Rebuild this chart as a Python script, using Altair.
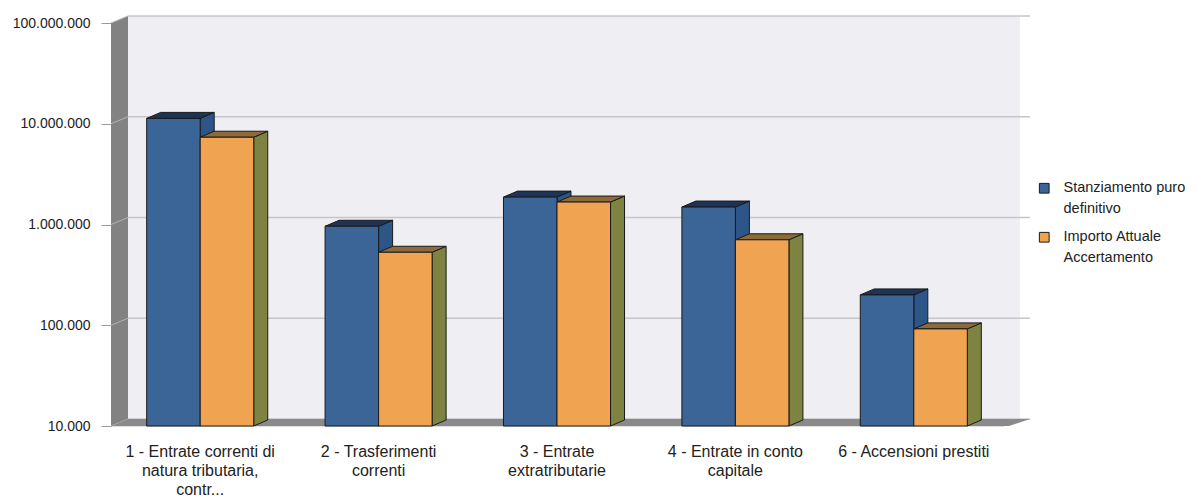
import json
import altair as alt
import numpy as np
import pandas as pd

# ---- data -------------------------------------------------------------
categories = [
    "1 - Entrate correnti di\nnatura tributaria,\ncontr...",
    "2 - Trasferimenti\ncorrenti",
    "3 - Entrate\nextratributarie",
    "4 - Entrate in conto\ncapitale",
    "6 - Accensioni prestiti",
]
series_names = ["Stanziamento puro definitivo", "Importo Attuale Accertamento"]
legend_lines = [["Stanziamento puro", "definitivo"], ["Importo Attuale", "Accertamento"]]
stanziamento = [11_300_000, 960_000, 1_870_000, 1_490_000, 200_000]
accertamento = [7_350_000, 530_000, 1_670_000, 705_000, 92_000]
y_ticks = [10_000, 100_000, 1_000_000, 10_000_000, 100_000_000]

# ---- geometry of the pseudo-3D frame ------------------------------------
W, H = 892, 403
N = len(categories)
Y_MIN, Y_MAX = y_ticks[0], y_ticks[-1]
PX_PER_X = W / N
PX_PER_DECADE = H / np.log10(Y_MAX / Y_MIN)


def dx(px):
    return px / PX_PER_X


def ky(px):
    return 10 ** (px / PX_PER_DECADE)


BAR_W = 0.3
BAR_DX, BAR_K = dx(14), ky(6)
WALL_DX, WALL_K = dx(17), ky(7)

FONT = "Liberation Sans"
palette = {
    "front": ["#3b6497", "#f0a452"],
    "top": ["#1d3458", "#8c6a3a"],
    "side": ["#2d5587", "#7f8341"],
}
EDGE = "#1a1a1a"

# ---- tables -------------------------------------------------------------
rows = []
for i, (a, b) in enumerate(zip(stanziamento, accertamento)):
    c = i + 0.5
    rows.append(dict(cat=i, s=0, series=series_names[0], value=a, xl=c - BAR_W, xr=c))
    rows.append(dict(cat=i, s=1, series=series_names[1], value=b, xl=c, xr=c + BAR_W))
bars = pd.DataFrame(rows)
bars["bar"] = bars["cat"] * 2 + bars["s"]
bars["base"] = Y_MIN

side = pd.concat([
    pd.DataFrame(dict(bar=bars.bar, s=bars.s, sx=bars.xr, st=bars.value, sb=Y_MIN)),
    pd.DataFrame(dict(bar=bars.bar, s=bars.s, sx=bars.xr + BAR_DX,
                      st=bars.value * BAR_K, sb=Y_MIN * BAR_K)),
])
top = pd.concat([
    pd.DataFrame(dict(bar=bars.bar, s=bars.s, ty=bars.value, tl=bars.xl, tr=bars.xr)),
    pd.DataFrame(dict(bar=bars.bar, s=bars.s, ty=bars.value * BAR_K,
                      tl=bars.xl + BAR_DX, tr=bars.xr + BAR_DX)),
])

labels = pd.DataFrame(dict(xc=[i + 0.5 for i in range(N)], label=categories))

left_wall = pd.DataFrame(dict(wx=[0, WALL_DX], wt=[Y_MAX, Y_MAX * WALL_K], wb=[Y_MIN, Y_MIN * WALL_K]))
floor = pd.DataFrame(dict(fy=[Y_MIN, Y_MIN * WALL_K], fl=[0, WALL_DX], fr=[N + dx(6), N + dx(27)]))
back = pd.DataFrame(dict(bl=[WALL_DX], br=[N + WALL_DX], bb=[Y_MIN * WALL_K], bt=[Y_MAX * WALL_K]))
grid = pd.DataFrame(dict(gy=[t * WALL_K for t in y_ticks], gl=WALL_DX, gr=N + dx(27)))
conn = pd.concat([
    pd.DataFrame(dict(t=range(len(y_ticks)), cx=0.0, cy=y_ticks)),
    pd.DataFrame(dict(t=range(len(y_ticks)), cx=WALL_DX, cy=[v * WALL_K for v in y_ticks])),
])

# ---- shared scales ------------------------------------------------------
xscale = alt.Scale(domain=[0, N], nice=False, zero=False)
yscale = alt.Scale(type="log", domain=[Y_MIN, Y_MAX], nice=False)
yaxis = alt.Axis(
    values=y_ticks,
    labelExpr="replace(format(datum.value, ',.0f'), regexp(',', 'g'), '.')",
    domain=False, grid=False, ticks=True, tickSize=10, tickColor="#9a9a9a",
    labelFont=FONT, labelFontSize=14, labelColor="#222222", labelPadding=11,
    title=None,
)


def X(f):
    return alt.X(f"{f}:Q", scale=xscale, axis=None)


def X2(f):
    return alt.X2(f"{f}:Q")


def Y(f):
    return alt.Y(f"{f}:Q", scale=yscale, axis=yaxis)


def Y2(f):
    return alt.Y2(f"{f}:Q")


# ---- frame --------------------------------------------------------------
back_wall = alt.Chart(back).mark_rect(fill="#eeeef3").encode(
    x=X("bl"), x2=X2("br"), y=Y("bt"), y2=Y2("bb"))
grid_lines = alt.Chart(grid).mark_rule(color="#c6c6ca", strokeWidth=1.5).encode(
    x=X("gl"), x2=X2("gr"), y=Y("gy"))
wall_left = alt.Chart(left_wall).mark_area(fill="#828282").encode(
    x=X("wx"), y=Y("wt"), y2=Y2("wb"))
floor_area = alt.Chart(floor).mark_area(orient="horizontal", fill="#8a8a8a").encode(
    y=Y("fy"), x=X("fl"), x2=X2("fr"))
connectors = alt.Chart(conn).mark_line(color="#b4b4b4", strokeWidth=1).encode(
    x=X("cx"), y=Y("cy"), detail="t:N")

# ---- bars ---------------------------------------------------------------
color_scale = alt.Scale(domain=series_names, range=palette["front"])
label_expr = (
    f"datum.label == {json.dumps(series_names[0])} ? {json.dumps(legend_lines[0])} "
    f": {json.dumps(legend_lines[1])}"
)
legend = alt.Legend(
    title=None, orient="none", legendX=926, legendY=158,
    symbolType="square", symbolSize=95, symbolStrokeColor=EDGE, symbolStrokeWidth=1,
    labelFont=FONT, labelFontSize=14.5, labelColor="#222222", labelExpr=label_expr,
    labelOffset=12, rowPadding=13,
)

bar_layers = []
for s in (0, 1):
    side_l = alt.Chart(side).transform_filter(alt.datum.s == s).mark_area(
        fill=palette["side"][s], stroke=EDGE, strokeWidth=1
    ).encode(x=X("sx"), y=Y("st"), y2=Y2("sb"), detail="bar:N")
    top_l = alt.Chart(top).transform_filter(alt.datum.s == s).mark_area(
        orient="horizontal", fill=palette["top"][s], stroke=EDGE, strokeWidth=1
    ).encode(y=Y("ty"), x=X("tl"), x2=X2("tr"), detail="bar:N")
    front_l = alt.Chart(bars).transform_filter(alt.datum.s == s).mark_rect(
        stroke=EDGE, strokeWidth=1
    ).encode(
        x=X("xl"), x2=X2("xr"), y=Y("value"), y2=Y2("base"),
        color=alt.Color("series:N", scale=color_scale, legend=legend),
    )
    bar_layers += [side_l, top_l, front_l]

# ---- category labels ----------------------------------------------------
cat_text = alt.Chart(labels).mark_text(
    font=FONT, fontSize=16, lineBreak="\n", lineHeight=19, baseline="top",
    align="center", color="#222222",
).encode(x=X("xc"), y=alt.value(H + 18), text="label:N")

chart = alt.layer(
    back_wall, grid_lines, wall_left, connectors, floor_area, *bar_layers, cat_text
).properties(
    width=W, height=H,
    autosize=alt.AutoSizeParams(type="none"),
    padding={"left": 111, "top": 23, "right": 1196 - 111 - W, "bottom": 502 - 23 - H},
).configure_view(stroke=None).configure(
    background="white",
    style={"guide-label": {"lineHeight": 21}},
)

chart.save("out.html", embed_options={"renderer": "svg", "actions": False})
